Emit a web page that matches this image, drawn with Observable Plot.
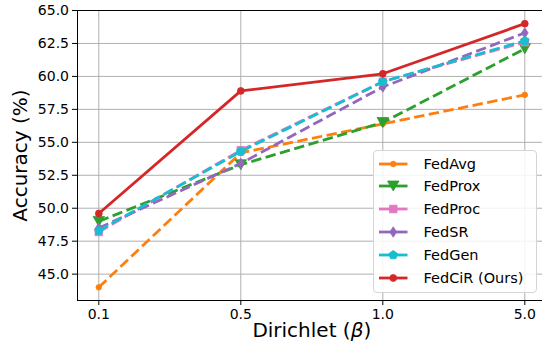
<!DOCTYPE html>
<html><head><meta charset="utf-8">
<script src="https://cdn.jsdelivr.net/npm/d3@7"></script>
<script src="https://cdn.jsdelivr.net/npm/@observablehq/plot@0.6"></script>
<style>
body{margin:0;background:#fff;font-family:"DejaVu Sans",sans-serif;}
#wrap{position:relative;width:542px;height:351px;overflow:hidden;}
#legend{position:absolute;left:372.5px;top:149.5px;width:164px;height:143px;box-sizing:border-box;border:1px solid #d5d5d5;border-radius:4px;background:rgba(255,255,255,0.85);}
.sw{position:absolute;left:4px;width:32px;height:20px;}
.lt{position:absolute;left:50px;font-size:14.5px;line-height:20px;height:20px;color:#000;white-space:nowrap;}
</style>
</head><body>
<div id="wrap"><div id="chart"></div><div id="legend"></div></div>
<script>
const xLabels = ["0.1", "0.5", "1.0", "5.0"];
const methods = ["FedAvg", "FedProx", "FedProc", "FedSR", "FedGen", "FedCiR (Ours)"];
const fedAvg  = [44.0, 54.2, 56.4, 58.6];
const fedProx = [49.0, 53.3, 56.5, 62.1];
const fedProc = [48.2, 54.4, 59.6, 62.6];
const fedSR   = [48.5, 53.4, 59.2, 63.3];
const fedGen  = [48.3, 54.3, 59.6, 62.7];
const fedCiR  = [49.6, 58.9, 60.2, 64.0];
const yTicks = [45, 47.5, 50, 52.5, 55, 57.5, 60, 62.5, 65];
const colors = ["#ff7f0e", "#2ca02c", "#e377c2", "#9467bd", "#17becf", "#d62728"];

const series = [fedAvg, fedProx, fedProc, fedSR, fedGen, fedCiR];

// marker shapes (k = radius unit)
function mk(fn) { return {draw(ctx, size) { const k = Math.sqrt(size / Math.PI); fn(ctx, k); ctx.closePath(); }}; }
const circle = mk((c, k) => { c.moveTo(k, 0); c.arc(0, 0, k, 0, 2 * Math.PI); });
const triDown = mk((c, k) => { c.moveTo(0, k); c.lineTo(-1.15 * k, -k); c.lineTo(1.15 * k, -k); });
const square = mk((c, k) => { c.moveTo(-k, -k); c.lineTo(k, -k); c.lineTo(k, k); c.lineTo(-k, k); });
const thinDiamond = mk((c, k) => { c.moveTo(0, -k); c.lineTo(0.65 * k, 0); c.lineTo(0, k); c.lineTo(-0.65 * k, 0); });
const pentagon = mk((c, k) => { for (let j = 0; j < 5; j++) { const a = -Math.PI / 2 + j * 2 * Math.PI / 5; const px = k * Math.cos(a), py = k * Math.sin(a); j ? c.lineTo(px, py) : c.moveTo(px, py); } });
const symbols = [circle, triDown, square, thinDiamond, pentagon, circle];
const radii = [2.8, 5, 3.8, 5.2, 4.6, 3.4];

const marks = [
  Plot.gridY(yTicks, {stroke: "#b0b0b0", strokeOpacity: 1, strokeWidth: 1}),
  Plot.gridX([0, 1, 2, 3], {stroke: "#b0b0b0", strokeOpacity: 1, strokeWidth: 1}),
  Plot.ruleX([-0.15], {stroke: "#000", strokeWidth: 1}),
  Plot.ruleY([43], {stroke: "#000", strokeWidth: 1}),
  Plot.ruleY([65], {stroke: "#000", strokeWidth: 1}),
  Plot.axisY(yTicks, {tickFormat: d => d.toFixed(1), tickSize: 5, tickPadding: 3.5, fontSize: 14, label: null, stroke: "#000"}),
  Plot.axisX([0, 1, 2, 3], {tickFormat: i => xLabels[i], tickSize: 5, tickPadding: 4, fontSize: 14, label: null, stroke: "#000"})
];
series.forEach((vals, k) => {
  const data = vals.map((v, i) => ({i, v}));
  marks.push(Plot.line(data, {x: "i", y: "v", stroke: colors[k], strokeWidth: 2.8,
    strokeDasharray: k < 5 ? "10.4,4.5" : null, strokeLinecap: "butt", strokeLinejoin: "round"}));
  marks.push(Plot.dot(data, {x: "i", y: "v", symbol: symbols[k], r: radii[k], fill: colors[k], stroke: colors[k], strokeWidth: 0.8}));
});
marks.push(Plot.text(["Accuracy (%)"], {frameAnchor: "left", rotate: -90, dx: -56.5, fontSize: 20, textAnchor: "middle", fill: "#000"}));
marks.push(Plot.text(["Dirichlet (β)"], {frameAnchor: "bottom", dx: 1.8, dy: 36.6, fontSize: 20, textAnchor: "middle", fill: "#000"}));

const chart = Plot.plot({
  width: 542, height: 351,
  marginLeft: 77, marginTop: 10, marginBottom: 51, marginRight: 0,
  style: {fontFamily: "DejaVu Sans", color: "#000", background: "#fff", overflow: "hidden"},
  x: {type: "linear", domain: [-0.15, 3.15], range: [77, 545.6]},
  y: {domain: [43, 65]},
  marks
});
d3.select(chart).selectAll("text").each(function() {
  if (this.textContent === "Dirichlet (β)") {
    this.innerHTML = 'Dirichlet (<tspan font-style="italic">β</tspan>)';
  }
});
document.getElementById("chart").appendChild(chart);

// legend
const leg = document.getElementById("legend");
const centers = [13.2, 35.8, 58.6, 81.2, 104.4, 127.2];
methods.forEach((m, k) => {
  const p = d3.path();
  symbols[k].draw(p, Math.PI * radii[k] * radii[k]);
  const sw = document.createElementNS("http://www.w3.org/2000/svg", "svg");
  sw.setAttribute("class", "sw");
  sw.style.top = (centers[k] - 10) + "px";
  sw.innerHTML = `<line x1="1" x2="29.5" y1="10" y2="10" stroke="${colors[k]}" stroke-width="2.8"/>` +
    `<path transform="translate(15.25,10)" d="${p.toString()}" fill="${colors[k]}" stroke="${colors[k]}" stroke-width="0.8"/>`;
  leg.appendChild(sw);
  const t = document.createElement("div");
  t.className = "lt";
  t.style.top = (centers[k] - 10) + "px";
  t.textContent = m;
  leg.appendChild(t);
});
</script>
</body></html>
